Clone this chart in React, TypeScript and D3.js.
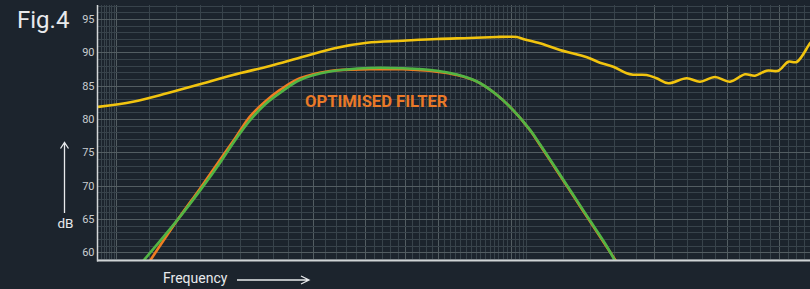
import React, { useEffect, useRef } from "react";
import * as d3 from "d3";

// y axis ticks (dB)
const yTicks = [60, 65, 70, 75, 80, 85, 90, 95];

// response curves, frequency in arbitrary log units
const yellowFreq = [0.4528, 0.5499, 0.6646, 0.7986, 0.959, 1.178, 1.416, 1.711, 2.021, 2.469, 2.983, 3.584, 4.165, 4.477, 4.655, 4.814, 5.29, 5.91, 6.87, 7.386, 7.95, 8.567, 8.872, 9.576, 10.12, 10.8, 11.96, 12.88, 14.0, 15.22, 16.54, 17.49, 18.67, 19.91, 21.05, 22.06, 23.75, 24.5];
const yellowDb = [81.8, 82.59, 83.85, 85.2, 86.6, 87.95, 89.34, 90.69, 91.44, 91.74, 92.0, 92.15, 92.3, 92.34, 92.3, 92.0, 91.35, 90.35, 89.25, 88.44, 87.84, 86.85, 86.64, 86.6, 86.1, 85.35, 86.1, 85.59, 86.3, 85.59, 86.7, 86.49, 87.24, 87.24, 88.59, 88.55, 91.35, 92.4];

const orangeFreq = [0.6044, 0.7077, 0.7975, 0.8921, 0.9699, 1.054, 1.146, 1.246, 1.392, 1.645, 2.055, 2.469, 2.983, 3.334, 3.727, 4.165, 4.551, 5.005, 5.29, 5.805, 6.368, 6.986, 7.664, 8.07];
const orangeDb = [58.69, 65.0, 69.5, 73.85, 77.06, 80.34, 82.58, 84.35, 86.1, 87.2, 87.45, 87.45, 87.09, 86.6, 85.6, 83.6, 81.35, 78.3, 76.1, 72.27, 68.45, 64.62, 60.8, 58.69];

const greenFreq = [0.5824, 0.7077, 0.7975, 0.8921, 0.9699, 1.054, 1.146, 1.246, 1.392, 1.645, 2.055, 2.469, 2.983, 3.334, 3.727, 4.165, 4.551, 5.005, 5.29, 5.805, 6.368, 6.986, 7.664, 8.03];
const greenDb = [58.69, 65.0, 69.2, 73.4, 76.78, 79.77, 82.17, 83.9, 85.85, 87.12, 87.65, 87.6, 87.24, 86.67, 85.62, 83.6, 81.35, 78.35, 76.2, 72.4, 68.57, 64.75, 60.93, 58.69];

// brighter vertical grid lines
const majorFreqGrid = [0.5, 1.5, 2, 2.5, 3, 4.5, 10, 15, 20];

const App = () => {
  const ref = useRef<SVGSVGElement>(null);

  useEffect(() => {
    const W = 810;
    const H = 289;
    const margin = { top: 5, bottom: 28.5, left: 98, right: 0 };

    const svg = d3.select(ref.current);
    svg.selectAll("*").remove();
    svg.attr("width", W).attr("height", H);

    svg.append("rect").attr("width", W).attr("height", H).attr("fill", "#1c242d");

    const x = d3.scaleLog().domain([0.4528, 23.75]).range([margin.left, W - margin.right]);
    const y = d3.scaleLinear().domain([58.75, 97.1]).range([H - margin.bottom, margin.top]);

    svg
      .append("clipPath")
      .attr("id", "plot-clip")
      .append("rect")
      .attr("x", margin.left)
      .attr("y", margin.top)
      .attr("width", W - margin.left - margin.right)
      .attr("height", H - margin.top - margin.bottom);

    const grid = svg.append("g").attr("shape-rendering", "crispEdges");

    // vertical grid
    const minorF = [
      ...d3.range(0.46, 0.5, 0.007),
      ...d3.range(6, 50).map((d) => d / 10),
      ...d3.range(6, 24),
    ];
    grid
      .selectAll("line.vminor")
      .data(minorF)
      .join("line")
      .attr("x1", (d) => Math.round(x(d)) + 0.5)
      .attr("x2", (d) => Math.round(x(d)) + 0.5)
      .attr("y1", margin.top)
      .attr("y2", H - margin.bottom)
      .attr("stroke", "#38434b")
      .attr("stroke-width", 1);

    grid
      .selectAll("line.vmajor")
      .data(majorFreqGrid)
      .join("line")
      .attr("x1", (d) => Math.round(x(d)) + 0.5)
      .attr("x2", (d) => Math.round(x(d)) + 0.5)
      .attr("y1", margin.top)
      .attr("y2", H - margin.bottom)
      .attr("stroke", "#535d62")
      .attr("stroke-width", 1);

    // horizontal grid, every dB
    const hLines = d3.range(59, 98);
    grid
      .selectAll("line.h")
      .data(hLines)
      .join("line")
      .attr("x1", margin.left)
      .attr("x2", W)
      .attr("y1", (d) => Math.round(y(d)) + 0.5)
      .attr("y2", (d) => Math.round(y(d)) + 0.5)
      .attr("stroke", (d) => (d % 5 === 0 ? "#535d62" : "#38434b"))
      .attr("stroke-width", 1);

    // curves
    const line = d3
      .line<[number, number]>()
      .x((d) => x(d[0]))
      .y((d) => y(d[1]))
      .curve(d3.curveCatmullRom.alpha(0.5));

    const curves = svg.append("g").attr("clip-path", "url(#plot-clip)");
    const series = [
      { f: yellowFreq, v: yellowDb, color: "#f2c40f" },
      { f: orangeFreq, v: orangeDb, color: "#f07c22" },
      { f: greenFreq, v: greenDb, color: "#52b544" },
    ];
    series.forEach((s) => {
      curves
        .append("path")
        .datum(s.f.map((f, i) => [f, s.v[i]] as [number, number]))
        .attr("d", line)
        .attr("fill", "none")
        .attr("stroke", s.color)
        .attr("stroke-width", 2.6)
        .attr("stroke-linejoin", "round");
    });

    // axes
    svg
      .append("line")
      .attr("x1", margin.left - 0.5)
      .attr("x2", margin.left - 0.5)
      .attr("y1", margin.top)
      .attr("y2", H - margin.bottom + 1)
      .attr("stroke", "#d3d6d8")
      .attr("stroke-width", 1.5);
    svg
      .append("line")
      .attr("x1", margin.left - 1)
      .attr("x2", W)
      .attr("y1", H - margin.bottom)
      .attr("y2", H - margin.bottom)
      .attr("stroke", "#cfd3d5")
      .attr("stroke-width", 2);

    svg
      .append("g")
      .selectAll("text")
      .data(yTicks)
      .join("text")
      .attr("x", 94.5)
      .attr("y", (d) => y(d) + 4)
      .attr("text-anchor", "end")
      .attr("font-family", "Roboto, sans-serif")
      .attr("font-size", 11)
      .attr("fill", "#c9cdd0")
      .text((d) => d);

    svg
      .append("text")
      .attr("x", 17)
      .attr("y", 28)
      .attr("font-family", "Roboto, sans-serif")
      .attr("font-size", 24)
      .attr("fill", "#e8eaec")
      .text("Fig.4");

    svg
      .append("text")
      .attr("x", 305)
      .attr("y", 107)
      .attr("font-family", "Roboto, sans-serif")
      .attr("font-weight", 700)
      .attr("font-size", 16.6)
      .attr("fill", "#ea7a28")
      .text("OPTIMISED FILTER");

    // dB label with arrow
    svg
      .append("text")
      .attr("x", 65.5)
      .attr("y", 228)
      .attr("text-anchor", "middle")
      .attr("font-family", "Roboto, sans-serif")
      .attr("font-size", 13.5)
      .attr("fill", "#e8eaec")
      .text("dB");
    svg
      .append("path")
      .attr("d", "M64.5,213 V142.5 M60.5,148.5 L64.5,142.5 L68.5,148.5")
      .attr("fill", "none")
      .attr("stroke", "#e8eaec")
      .attr("stroke-width", 1.3);

    // Frequency label with arrow
    svg
      .append("text")
      .attr("x", 163)
      .attr("y", 283)
      .attr("font-family", "Roboto, sans-serif")
      .attr("font-size", 14)
      .attr("fill", "#e8eaec")
      .text("Frequency");
    svg
      .append("path")
      .attr("d", "M237,280 H309 M301,276 L309,280 L301,284")
      .attr("fill", "none")
      .attr("stroke", "#e8eaec")
      .attr("stroke-width", 1.3);
  }, []);

  return (
    <svg
      ref={ref}
      style={{ position: "absolute", left: 0, top: 0, display: "block" }}
    ></svg>
  );
};

export default App;
